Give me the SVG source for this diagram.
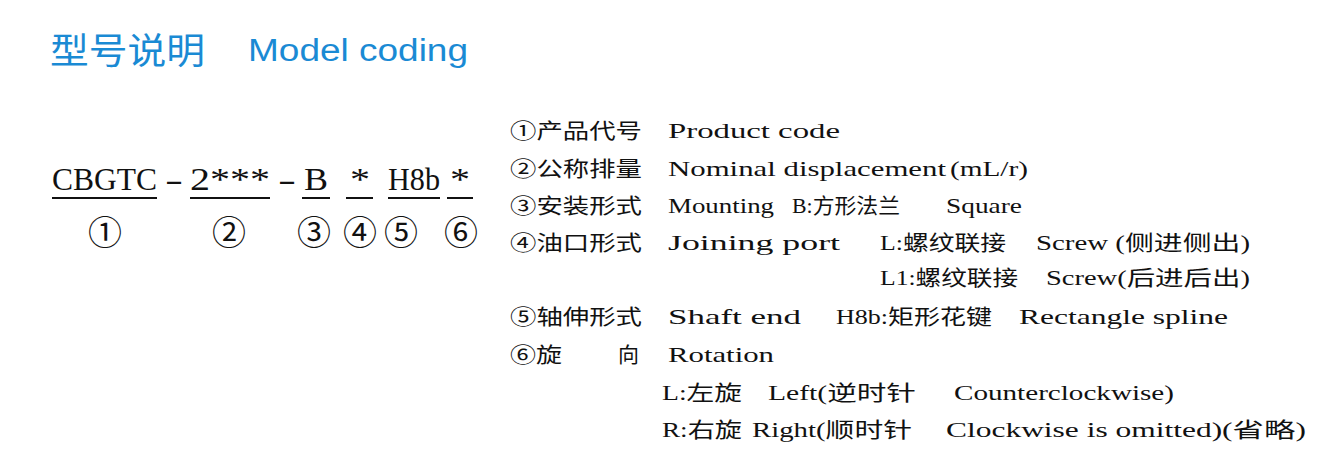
<svg xmlns="http://www.w3.org/2000/svg" width="1338" height="470" viewBox="0 0 1338 470">
<style>
.t{font-family:"Liberation Serif","Noto Sans CJK SC",serif;font-size:21px;fill:#111}
.c{font-family:"Liberation Serif","Noto Sans CJK SC",serif;font-size:32px;fill:#111}
.n{font-family:"Noto Sans CJK SC",serif;font-size:34px;fill:#111;text-anchor:middle}
.u{stroke:#111;stroke-width:2}
</style>
<rect width="1338" height="470" fill="#fff"/>
<g id="title" fill="#1a8ad4">
<text x="50" y="64" font-family="Noto Sans CJK SC,sans-serif" font-size="36" textLength="155" lengthAdjust="spacingAndGlyphs">型号说明</text>
<text x="248" y="61" font-family="Liberation Sans,sans-serif" font-size="31" textLength="220" lengthAdjust="spacingAndGlyphs">Model  coding</text>
</g>
<g id="code">
<text class="c" x="52" y="190" textLength="105" lengthAdjust="spacingAndGlyphs">CBGTC</text>
<text class="c" x="165" y="190" textLength="18" lengthAdjust="spacingAndGlyphs">-</text>
<text class="c" x="190" y="190" textLength="80" lengthAdjust="spacingAndGlyphs">2***</text>
<text class="c" x="278" y="190" textLength="18" lengthAdjust="spacingAndGlyphs">-</text>
<text class="c" x="304" y="190" textLength="24" lengthAdjust="spacingAndGlyphs">B</text>
<text class="c" x="350" y="190" textLength="20" lengthAdjust="spacingAndGlyphs">*</text>
<text class="c" x="388" y="190" textLength="52" lengthAdjust="spacingAndGlyphs">H8b</text>
<text class="c" x="450" y="190" textLength="20" lengthAdjust="spacingAndGlyphs">*</text>
<line class="u" x1="52" y1="198" x2="157" y2="198"/>
<line class="u" x1="190" y1="198" x2="270" y2="198"/>
<line class="u" x1="302" y1="198" x2="330" y2="198"/>
<line class="u" x1="346" y1="198" x2="373" y2="198"/>
<line class="u" x1="388" y1="198" x2="440" y2="198"/>
<line class="u" x1="447" y1="198" x2="473" y2="198"/>
<text class="n" x="105" y="245">①</text>
<text class="n" x="229" y="245">②</text>
<text class="n" x="314" y="245">③</text>
<text class="n" x="360" y="245">④</text>
<text class="n" x="401" y="245">⑤</text>
<text class="n" x="461" y="245">⑥</text>
</g>
<g id="legend">
<text class="t" x="510" y="138" textLength="132" lengthAdjust="spacingAndGlyphs">①产品代号</text>
<text class="t" x="668" y="138" textLength="172" lengthAdjust="spacingAndGlyphs">Product  code</text>
<text class="t" x="510" y="176" textLength="132" lengthAdjust="spacingAndGlyphs">②公称排量</text>
<text class="t" x="668" y="176" textLength="278" lengthAdjust="spacingAndGlyphs">Nominal  displacement</text>
<text class="t" x="950" y="176" font-size="18" textLength="78" lengthAdjust="spacingAndGlyphs">(mL/r)</text>
<text class="t" x="510" y="213" textLength="132" lengthAdjust="spacingAndGlyphs">③安装形式</text>
<text class="t" x="668" y="213" textLength="106" lengthAdjust="spacingAndGlyphs">Mounting</text>
<text class="t" x="792" y="213" textLength="108" lengthAdjust="spacingAndGlyphs">B:方形法兰</text>
<text class="t" x="946" y="213" textLength="76" lengthAdjust="spacingAndGlyphs">Square</text>
<text class="t" x="510" y="250" textLength="132" lengthAdjust="spacingAndGlyphs">④油口形式</text>
<text class="t" x="668" y="250" textLength="172" lengthAdjust="spacingAndGlyphs">Joining  port</text>
<text class="t" x="880" y="250" textLength="126" lengthAdjust="spacingAndGlyphs">L:螺纹联接</text>
<text class="t" x="1036" y="250" textLength="214" lengthAdjust="spacingAndGlyphs">Screw (侧进侧出)</text>
<text class="t" x="880" y="285" textLength="138" lengthAdjust="spacingAndGlyphs">L1:螺纹联接</text>
<text class="t" x="1046" y="285" textLength="204" lengthAdjust="spacingAndGlyphs">Screw(后进后出)</text>
<text class="t" x="510" y="324" textLength="132" lengthAdjust="spacingAndGlyphs">⑤轴伸形式</text>
<text class="t" x="668" y="324" textLength="133" lengthAdjust="spacingAndGlyphs">Shaft  end</text>
<text class="t" x="836" y="324" textLength="156" lengthAdjust="spacingAndGlyphs">H8b:矩形花键</text>
<text class="t" x="1019" y="324" textLength="209" lengthAdjust="spacingAndGlyphs">Rectangle spline</text>
<text class="t" x="510" y="362" textLength="52" lengthAdjust="spacingAndGlyphs">⑥旋</text>
<text class="t" x="618" y="362">向</text>
<text class="t" x="668" y="362" textLength="106" lengthAdjust="spacingAndGlyphs">Rotation</text>
<text class="t" x="662" y="400" textLength="80" lengthAdjust="spacingAndGlyphs">L:左旋</text>
<text class="t" x="768" y="400" textLength="148" lengthAdjust="spacingAndGlyphs">Left(逆时针</text>
<text class="t" x="954" y="400" textLength="220" lengthAdjust="spacingAndGlyphs">Counterclockwise)</text>
<text class="t" x="662" y="437" textLength="80" lengthAdjust="spacingAndGlyphs">R:右旋</text>
<text class="t" x="752" y="437" textLength="160" lengthAdjust="spacingAndGlyphs">Right(顺时针</text>
<text class="t" x="946" y="437" textLength="360" lengthAdjust="spacingAndGlyphs">Clockwise is omitted)(省略)</text>
</g>
</svg>
